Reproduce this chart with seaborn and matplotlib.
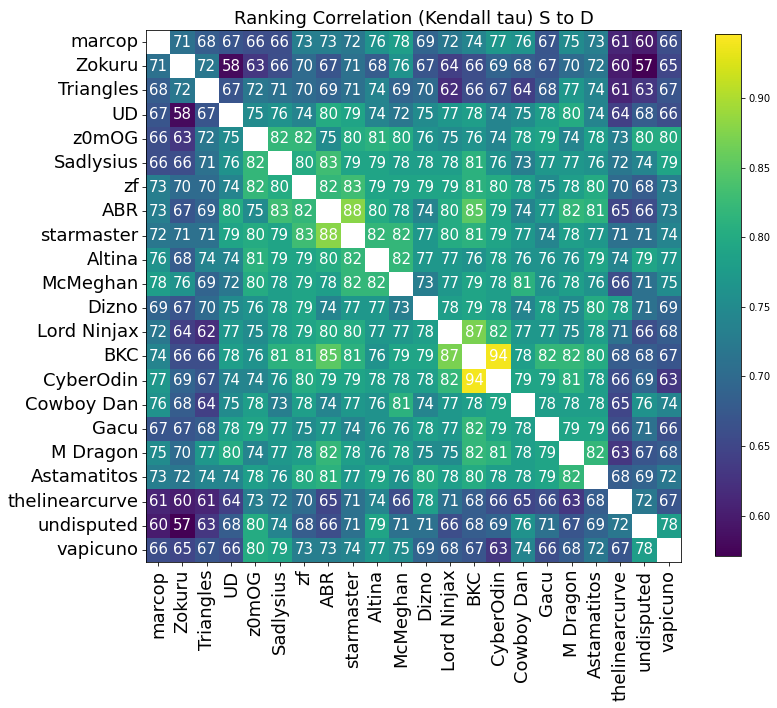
import numpy as np
import pandas as pd
import matplotlib
matplotlib.use("Agg")
import matplotlib.pyplot as plt
import seaborn as sns

players = ["marcop", "Zokuru", "Triangles", "UD", "z0mOG", "Sadlysius", "zf", "ABR",
           "starmaster", "Altina", "McMeghan", "Dizno", "Lord Ninjax", "BKC", "CyberOdin",
           "Cowboy Dan", "Gacu", "M Dragon", "Astamatitos", "thelinearcurve", "undisputed",
           "vapicuno"]

# kendall tau x100, diagonal left empty (None)
tau_pct = [
    [None, 71, 68, 67, 66, 66, 73, 73, 72, 76, 78, 69, 72, 74, 77, 76, 67, 75, 73, 61, 60, 66],
    [71, None, 72, 58, 63, 66, 70, 67, 71, 68, 76, 67, 64, 66, 69, 68, 67, 70, 72, 60, 57, 65],
    [68, 72, None, 67, 72, 71, 70, 69, 71, 74, 69, 70, 62, 66, 67, 64, 68, 77, 74, 61, 63, 67],
    [67, 58, 67, None, 75, 76, 74, 80, 79, 74, 72, 75, 77, 78, 74, 75, 78, 80, 74, 64, 68, 66],
    [66, 63, 72, 75, None, 82, 82, 75, 80, 81, 80, 76, 75, 76, 74, 78, 79, 74, 78, 73, 80, 80],
    [66, 66, 71, 76, 82, None, 80, 83, 79, 79, 78, 78, 78, 81, 76, 73, 77, 77, 76, 72, 74, 79],
    [73, 70, 70, 74, 82, 80, None, 82, 83, 79, 79, 79, 79, 81, 80, 78, 75, 78, 80, 70, 68, 73],
    [73, 67, 69, 80, 75, 83, 82, None, 88, 80, 78, 74, 80, 85, 79, 74, 77, 82, 81, 65, 66, 73],
    [72, 71, 71, 79, 80, 79, 83, 88, None, 82, 82, 77, 80, 81, 79, 77, 74, 78, 77, 71, 71, 74],
    [76, 68, 74, 74, 81, 79, 79, 80, 82, None, 82, 77, 77, 76, 78, 76, 76, 76, 79, 74, 79, 77],
    [78, 76, 69, 72, 80, 78, 79, 78, 82, 82, None, 73, 77, 79, 78, 81, 76, 78, 76, 66, 71, 75],
    [69, 67, 70, 75, 76, 78, 79, 74, 77, 77, 73, None, 78, 79, 78, 74, 78, 75, 80, 78, 71, 69],
    [72, 64, 62, 77, 75, 78, 79, 80, 80, 77, 77, 78, None, 87, 82, 77, 77, 75, 78, 71, 66, 68],
    [74, 66, 66, 78, 76, 81, 81, 85, 81, 76, 79, 79, 87, None, 94, 78, 82, 82, 80, 68, 68, 67],
    [77, 69, 67, 74, 74, 76, 80, 79, 79, 78, 78, 78, 82, 94, None, 79, 79, 81, 78, 66, 69, 63],
    [76, 68, 64, 75, 78, 73, 78, 74, 77, 76, 81, 74, 77, 78, 79, None, 78, 78, 78, 65, 76, 74],
    [67, 67, 68, 78, 79, 77, 75, 77, 74, 76, 76, 78, 77, 82, 79, 78, None, 79, 79, 66, 71, 66],
    [75, 70, 77, 80, 74, 77, 78, 82, 78, 76, 78, 75, 75, 82, 81, 78, 79, None, 82, 63, 67, 68],
    [73, 72, 74, 74, 78, 76, 80, 81, 77, 79, 76, 80, 78, 80, 78, 78, 79, 82, None, 68, 69, 72],
    [61, 60, 61, 64, 73, 72, 70, 65, 71, 74, 66, 78, 71, 68, 66, 65, 66, 63, 68, None, 72, 67],
    [60, 57, 63, 68, 80, 74, 68, 66, 71, 79, 71, 71, 66, 68, 69, 76, 71, 67, 69, 72, None, 78],
    [66, 65, 67, 66, 80, 79, 73, 73, 74, 77, 75, 69, 68, 67, 63, 74, 66, 68, 72, 67, 78, None],
]

df = pd.DataFrame(tau_pct, index=players, columns=players, dtype=float)
tau = df / 100.0
labels = df.map(lambda v: "" if np.isnan(v) else f"{int(v)}")

fig = plt.figure(figsize=(777 / 72, 708 / 72), dpi=72)
ax = fig.add_axes([0.1879, 0.2062, 0.6885, 0.7514])
cax = fig.add_axes([0.9206, 0.2147, 0.0335, 0.737])

sns.heatmap(tau, ax=ax, cbar_ax=cax, cmap="viridis", vmin=0.571, vmax=0.946,
            annot=labels, fmt="", annot_kws={"color": "white", "fontsize": 15})

for side in ["left", "bottom", "top", "right"]:
    ax.spines[side].set_visible(True)
    ax.spines[side].set_color("black")
ax.set_xticklabels(players, rotation=90, fontsize=18)
ax.set_yticklabels(players, rotation=0, fontsize=18)
ax.tick_params(axis="both", length=4, color="black")
ax.set_title("Ranking Correlation (Kendall tau) S to D", fontsize=18)

cbar = ax.collections[0].colorbar
cbar.set_ticks([0.60, 0.65, 0.70, 0.75, 0.80, 0.85, 0.90])
cbar.ax.tick_params(labelsize=10)
cbar.outline.set_visible(True)
cbar.outline.set_edgecolor("black")
cbar.outline.set_linewidth(0.8)

fig.savefig("out.png", dpi=72)
